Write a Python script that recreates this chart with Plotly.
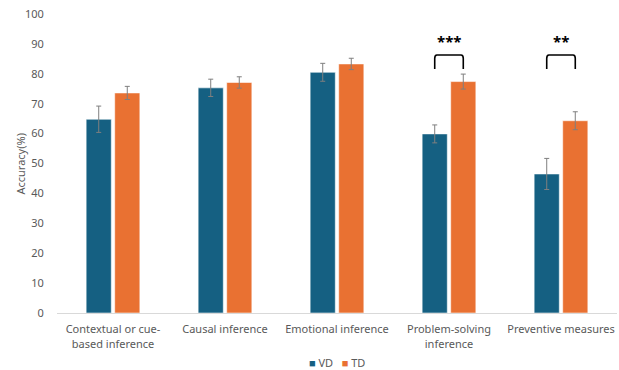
import plotly.graph_objects as go

categories = ["Contextual or cue-<br>based inference", "Causal inference", "Emotional inference",
              "Problem-solving<br>inference", "Preventive measures"]
vd_values = [64.8, 75.3, 80.5, 59.9, 46.5]
vd_errors = [4.4, 2.9, 3.0, 3.0, 5.2]
td_values = [73.6, 77.1, 83.3, 77.4, 64.3]
td_errors = [2.2, 1.9, 1.9, 2.5, 3.0]
y_ticks = [0, 10, 20, 30, 40, 50, 60, 70, 80, 90, 100]

# significance markers: (category index, label)
significance = [(3, "***"), (4, "**")]

VD_COLOR = "#156082"
TD_COLOR = "#E97132"
TEXT_COLOR = "#595959"
FONT = "Noto Sans"

bargap = 0.49
offset = (1 - bargap) / 4

fig = go.Figure()
for name, vals, errs, color in [("VD", vd_values, vd_errors, VD_COLOR),
                                 ("TD", td_values, td_errors, TD_COLOR)]:
    fig.add_trace(go.Bar(
        name=name, x=categories, y=vals, showlegend=False,
        marker=dict(color=color, line=dict(color="rgba(255,255,255,0.55)", width=1)),
        error_y=dict(type="data", array=errs, visible=True,
                     color="#7f7f7f", thickness=1, width=2.5),
    ))

# brackets with stars above the compared pairs
for idx, label in significance:
    x0 = idx - offset
    x1 = idx + offset
    y_top, y_low, r = 86.3, 81.6, 0.02
    fig.add_shape(
        type="path", xref="x", yref="y",
        path=(f"M {x0},{y_low} L {x0},{y_top - 1.2} Q {x0},{y_top} {x0 + r},{y_top} "
              f"L {x1 - r},{y_top} Q {x1},{y_top} {x1},{y_top - 1.2} L {x1},{y_low}"),
        line=dict(color="black", width=1.6),
    )
    fig.add_annotation(x=idx, y=91, xref="x", yref="y", text=f"<b>{label}</b>",
                       showarrow=False, font=dict(size=15, color="black", family=FONT))

# compact legend below the axis
legend_text = (f"<span style='color:{VD_COLOR}'>■</span> VD   "
               f"<span style='color:{TD_COLOR}'>■</span> TD")
fig.add_annotation(x=0.5, y=-0.165, xref="paper", yref="paper", yanchor="middle",
                   text=legend_text, showarrow=False,
                   font=dict(size=11, color=TEXT_COLOR, family=FONT))

# y-axis title
fig.add_annotation(x=-0.066, y=0.5, xref="paper", yref="paper", textangle=-90,
                   text="Accuracy(%)", showarrow=False, xanchor="center", yanchor="middle",
                   font=dict(size=11, color=TEXT_COLOR, family=FONT))

fig.update_layout(
    width=619, height=370,
    margin=dict(l=57, r=2, t=14, b=57),
    paper_bgcolor="white", plot_bgcolor="white",
    barmode="group", bargap=bargap, bargroupgap=0.12,
    font=dict(family=FONT, size=11, color=TEXT_COLOR),
    showlegend=False,
    xaxis=dict(showline=True, linecolor="#d9d9d9", linewidth=1, ticks="outside",
               ticklen=6, tickcolor="white", automargin=False,
               tickfont=dict(size=11, color=TEXT_COLOR), showgrid=False),
    yaxis=dict(range=[0, 100], tickvals=y_ticks, showgrid=False, zeroline=False,
               showline=False, ticks="outside", ticklen=10, tickcolor="white",
               automargin=False, tickfont=dict(size=11, color=TEXT_COLOR)),
)

fig.write_html("out.html")
